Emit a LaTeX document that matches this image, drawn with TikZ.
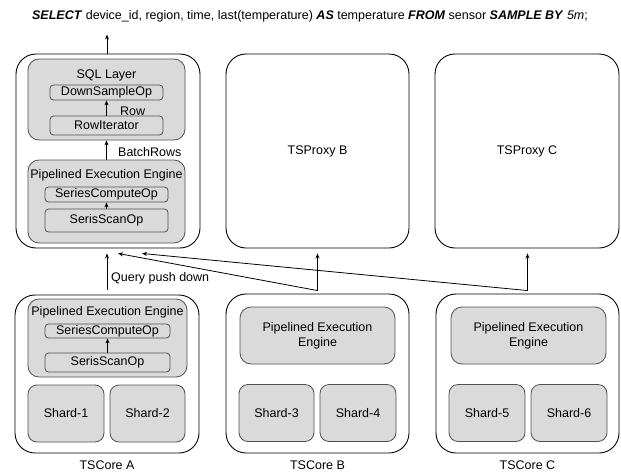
\documentclass[tikz,border=0pt]{standalone}
\usepackage{fontspec}
\setmainfont{Liberation Sans}
\usetikzlibrary{arrows.meta}
\definecolor{boxgray}{HTML}{DADADA}
\definecolor{edgegray}{HTML}{505050}
\begin{document}
\begin{tikzpicture}[x=1pt,y=-1pt,
  font=\fontsize{12.5}{14}\selectfont,
  outer/.style={draw=black,line width=0.9pt,fill=white,rounded corners=20pt,inner sep=0pt},
  graybox/.style={draw=edgegray,line width=0.8pt,fill=boxgray,rounded corners=11pt,inner sep=0pt},
  opbox/.style={draw=edgegray,line width=0.8pt,fill=boxgray,rounded corners=3.5pt,inner sep=0pt,minimum width=#1},
  shardbox/.style={draw=edgegray,line width=0.8pt,fill=boxgray,rounded corners=9pt,inner sep=0pt,minimum height=57pt},
  txt/.style={inner sep=0pt},
  arr/.style={line width=0.8pt,-{Stealth[length=5pt,width=4pt]}}
]
\useasboundingbox (0,0) rectangle (621,474);

% title
\node[txt] (title) at (310,16) {\textbf{\textit{SELECT}} device\_id, region, time, last(temperature) \textbf{\textit{AS}} temperature \textbf{\textit{FROM}} sensor \textbf{\textit{SAMPLE BY}} \textit{5m};};

% proxies
\node[outer,minimum width=184pt,minimum height=194pt] (proxyA) at (108,151) {};
\node[outer,minimum width=183pt,minimum height=194pt] (proxyB) at (317.5,151) {TSProxy B};
\node[outer,minimum width=184pt,minimum height=194pt] (proxyC) at (527,151) {TSProxy C};

% SQL layer
\node[graybox,minimum width=157pt,minimum height=81pt] (sql) at (106.5,99.5) {};
\node[txt] (sqlT) at (106.5,75) {SQL Layer};
\node[opbox=113pt,minimum height=15pt] (down) at (106.5,92.5) {DownSampleOp};
\node[opbox=113pt,minimum height=19pt] (rowit) at (106.5,125.5) {RowIterator};
\draw[arr] (rowit.north) -- (down.south);
\node[txt,anchor=west] (rowL) at (120,111) {Row};

% PEE in proxy A
\node[graybox,minimum width=157pt,minimum height=83pt] (peeP) at (106.5,201.5) {};
\node[txt] (peePT) at (106.5,175) {Pipelined Execution Engine};
\node[opbox=123pt,minimum height=15pt] (scP) at (106.5,194.5) {SeriesComputeOp};
\node[opbox=123pt,minimum height=23pt] (ssP) at (106.5,220.5) {SerisScanOp};
\draw[arr] (ssP.north) -- (scP.south);
\draw[arr] (peeP.north) -- (sql.south);
\node[txt,anchor=west] (batchL) at (118,152) {BatchRows};

% cores
\node[outer,minimum width=184pt,minimum height=158pt] (coreA) at (107,374) {};
\node[outer,minimum width=183pt,minimum height=159pt] (coreB) at (317.5,373.5) {};
\node[outer,minimum width=183pt,minimum height=159pt] (coreC) at (527.5,373.5) {};
\node[txt] (coreAL) at (107,465) {TSCore A};
\node[txt] (coreBL) at (317.5,465) {TSCore B};
\node[txt] (coreCL) at (527.5,465) {TSCore C};

% core A content
\node[graybox,minimum width=159pt,minimum height=78pt] (peeA) at (107.5,338) {};
\node[txt] (peeAT) at (107.5,312) {Pipelined Execution Engine};
\node[opbox=125pt,minimum height=14pt] (scA) at (107.5,331) {SeriesComputeOp};
\node[opbox=125pt,minimum height=19pt] (ssA) at (107.5,362.5) {SerisScanOp};
\draw[arr] (ssA.north) -- (scA.south);
\node[shardbox,minimum width=76pt] (sh1) at (66,413.5) {Shard-1};
\node[shardbox,minimum width=75pt] (sh2) at (147.5,413.5) {Shard-2};

% core B content
\node[graybox,minimum width=155pt,minimum height=57pt,align=center] (peeB) at (317.5,335.5) {Pipelined Execution\\[1pt]Engine};
\node[shardbox,minimum width=75pt] (sh3) at (276.5,413) {Shard-3};
\node[shardbox,minimum width=76pt] (sh4) at (358,413) {Shard-4};

% core C content
\node[graybox,minimum width=155pt,minimum height=57pt,align=center] (peeC) at (528.5,335.5) {Pipelined Execution\\[1pt]Engine};
\node[shardbox,minimum width=76pt] (sh5) at (487,413) {Shard-5};
\node[shardbox,minimum width=76pt] (sh6) at (569,413) {Shard-6};

% connectors
\coordinate (topEnd) at ([yshift=19pt]proxyA.north -| 107,0);
\draw[arr] (proxyA.north -| topEnd) -- (topEnd);
\draw[arr,shorten <=5pt,shorten >=5pt] (coreA.north) -- (coreA.north |- proxyA.south);
\node[txt,anchor=west] (qL) at (111,278) {Query push down};

\coordinate (bK) at ([yshift=3pt]coreB.north);
\coordinate (cK) at ([yshift=3pt]coreC.north);
\coordinate (aB) at ([xshift=10pt,yshift=-5pt]proxyA.south);
\coordinate (aC) at ([xshift=34pt,yshift=-5pt]proxyA.south);
\draw[arr,shorten >=5pt] (bK) -- (bK |- proxyB.south);
\draw[arr,shorten >=5pt] (cK) -- (cK |- proxyC.south);
\draw[arr] (bK) -- (aB);
\draw[arr] (cK) -- (aC);
\end{tikzpicture}
\end{document}
